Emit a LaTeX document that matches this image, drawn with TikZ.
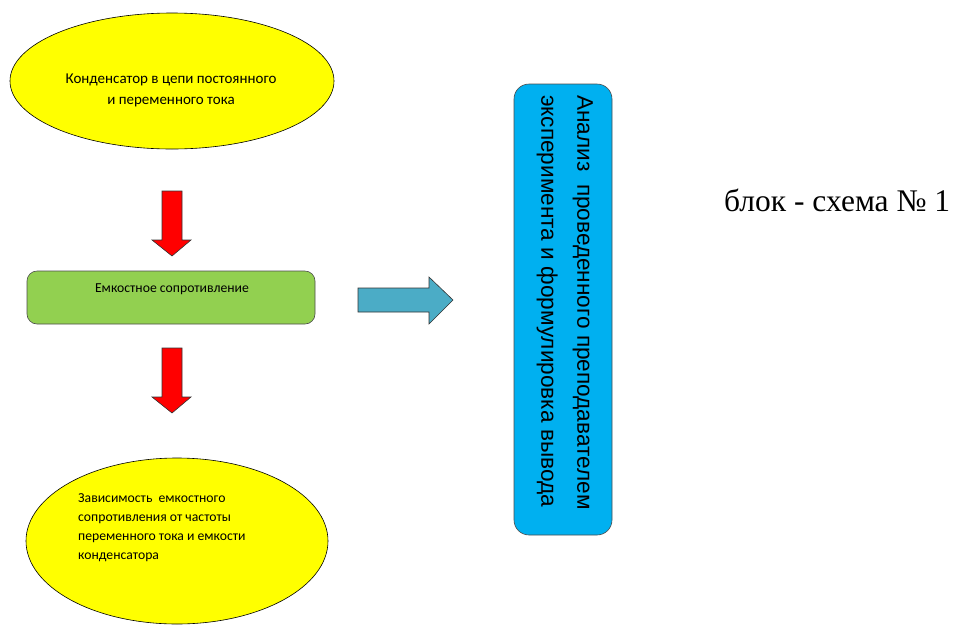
\documentclass[tikz,border=0pt]{standalone}
\usepackage{fontspec}
\setmainfont{Carlito}
\newfontfamily\arialf{Liberation Sans}
\newfontfamily\timesf{Liberation Serif}
\usetikzlibrary{shapes.geometric}
\definecolor{ylw}{RGB}{255,255,0}
\definecolor{grn}{RGB}{146,208,80}
\definecolor{cyn}{RGB}{0,176,240}
\definecolor{tealb}{RGB}{75,172,198}
\definecolor{rd}{RGB}{255,0,0}
\tikzset{
  oval/.style={draw=black, line width=0.6pt, fill=ylw},
  greenbox/.style={draw=black!70, line width=0.6pt, fill=grn, rounded corners=10pt},
  bluebox/.style={draw=black!70, line width=0.6pt, fill=cyn, rounded corners=15pt},
  redarrow/.style={draw=black!80, line width=0.6pt, fill=rd},
  bluearrow/.style={draw=black!80, line width=0.6pt, fill=tealb},
  smalltxt/.style={font=\fontsize{13.7}{20}\selectfont, inner sep=0pt},
}
\begin{document}
\begin{tikzpicture}[x=1pt,y=-1pt]
\useasboundingbox (0,0) rectangle (954,625);
% top ellipse
\draw[oval] (172,81) ellipse [x radius=162, y radius=68];
\node[smalltxt, align=center, font=\fontsize{15}{21}\selectfont] (t1) at (171,90) {Конденсатор в цепи постоянного\\и переменного тока};
% red arrow 1
\draw[redarrow] (162,191) -- (182,191) -- (182,240) -- (191,240) -- (172,256) -- (152,240) -- (162,240) -- cycle;
% green box
\draw[greenbox] (27,271) rectangle (315,324);
\node[smalltxt] (t2) at (172,289) {Емкостное сопротивление};
% red arrow 2
\draw[redarrow] (162,348) -- (182,348) -- (182,397) -- (191,397) -- (172,413) -- (152,397) -- (162,397) -- cycle;
% bottom ellipse
\draw[oval] (177,541) ellipse [x radius=151, y radius=83];
\node[smalltxt, align=left, anchor=north west, font=\fontsize{13.7}{19}\selectfont] (t3) at (78,493) {Зависимость\ \ емкостного\\сопротивления от частоты\\переменного тока и емкости\\конденсатора};
% blue arrow
\draw[bluearrow] (358,288) -- (429,288) -- (429,277) -- (453,300) -- (429,324) -- (429,312) -- (358,312) -- cycle;
% blue box
\draw[bluebox] (514,84) rectangle (612,535);
\node[rotate=-90, anchor=north west, align=left, inner sep=0pt, font=\arialf\fontsize{22.6}{36}\selectfont] (t4) at (593,95) {Анализ\ \ проведенного преподавателем\\эксперимента и формулировка вывода};
% title
\node[anchor=west, inner sep=0pt, font=\timesf\fontsize{31.5}{36}\selectfont] (t5) at (724,200) {блок - схема № 1};
\end{tikzpicture}
\end{document}
